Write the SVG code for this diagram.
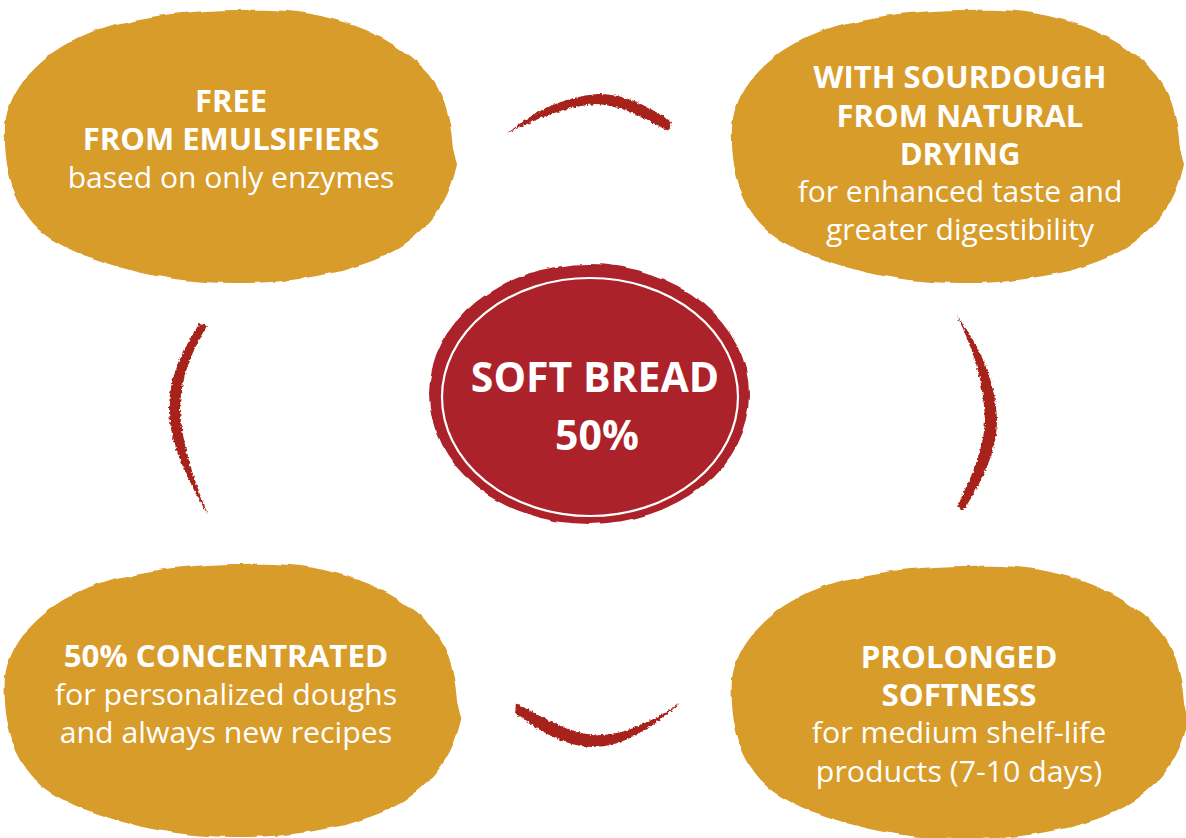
<svg xmlns="http://www.w3.org/2000/svg" width="1186" height="838" viewBox="0 0 1186 838">
  <defs>
    <style>
      .blob { fill: #D89C2A; }
      .hub { fill: #AC2029; }
      .ring { fill: none; stroke: #FFFFFF; stroke-width: 2.2; }
      .stroke { fill: #A8221B; }
      .head { font-family: "Open Sans", "Noto Sans", "Liberation Sans", sans-serif; font-weight: 700; font-size: 31px; fill: #FFFFFF; text-anchor: middle; }
      .body { font-family: "Open Sans", "Noto Sans", "Liberation Sans", sans-serif; font-weight: 400; font-size: 30px; fill: #FFFFFF; text-anchor: middle; }
      .hubtext { font-family: "Open Sans", "Noto Sans", "Liberation Sans", sans-serif; font-weight: 700; font-size: 41px; fill: #FFFFFF; text-anchor: middle; }
    </style>
    <!-- ragged paint edge -->
    <filter id="rough" x="-10%" y="-10%" width="120%" height="120%">
      <feTurbulence type="fractalNoise" baseFrequency="0.035" numOctaves="3" seed="4" result="n"/>
      <feDisplacementMap in="SourceGraphic" in2="n" scale="5" xChannelSelector="R" yChannelSelector="G"/>
    </filter>
    <filter id="brush" x="-20%" y="-20%" width="140%" height="140%">
      <feTurbulence type="fractalNoise" baseFrequency="0.35" numOctaves="2" seed="7" result="n"/>
      <feDisplacementMap in="SourceGraphic" in2="n" scale="4" xChannelSelector="R" yChannelSelector="G"/>
    </filter>
    <!-- painted oval, centred on the origin -->
    <path id="oval" d="M -226,-18 C -222,-72 -168,-112 -98,-126 C -58,-134 -10,-137 40,-136 C 110,-134 168,-106 198,-72 C 216,-50 220,-22 222,4 L 226,17 C 220,52 200,82 168,102 C 128,126 62,138 2,137 C -60,137 -128,122 -174,96 C -210,76 -228,36 -226,-18 Z"/>
  </defs>

  <rect width="1186" height="838" fill="#FFFFFF"/>

  <!-- brush-stroke arcs between the ovals -->
  <g id="connectors" filter="url(#brush)">
    <path class="stroke" d="M 508,133 C 535,110 565,97 597,94 C 626,93 651,108 672,122 L 668,131 C 646,119 624,106 597,104 C 566,106 538,118 508,133 Z"/>
    <path class="stroke" d="M 516,703 C 540,716 565,731 592,735 C 620,737 650,723 680,703 C 652,729 622,747 592,747 C 563,746 538,730 515,713 Z"/>
    <path class="stroke" d="M 200,323 L 207,326 C 191,352 180,380 180,410 C 182,445 194,480 208,515 C 189,482 170,446 169,410 C 169,378 182,350 200,323 Z"/>
    <path class="stroke" d="M 957,316 C 979,345 996,380 997,420 C 997,452 982,481 964,510 L 957,506 C 971,478 984,450 985,420 C 984,382 973,348 957,316 Z"/>
  </g>

  <g id="node-free" transform="translate(231,146)">
    <use href="#oval" class="blob" filter="url(#rough)"/>
    <text class="head" x="0" y="-34">FREE</text>
    <text class="head" x="0" y="4">FROM EMULSIFIERS</text>
    <text class="body" x="0" y="42">based on only enzymes</text>
  </g>

  <g id="node-sourdough" transform="translate(958,146)">
    <use href="#oval" class="blob" filter="url(#rough)"/>
    <text class="head" x="2" y="-58">WITH SOURDOUGH</text>
    <text class="head" x="2" y="-19">FROM NATURAL</text>
    <text class="head" x="2" y="19">DRYING</text>
    <text class="body" x="2" y="56">for enhanced taste and</text>
    <text class="body" x="2" y="94">greater digestibility</text>
  </g>

  <g id="node-concentrated" transform="translate(233,700) scale(1.01,1.0)">
    <use href="#oval" class="blob" filter="url(#rough)"/>
    <text class="head" x="-7" y="-33">50% CONCENTRATED</text>
    <text class="body" x="-7" y="5">for personalized doughs</text>
    <text class="body" x="-7" y="43">and always new recipes</text>
  </g>

  <g id="node-softness" transform="translate(960,702) scale(1.01,1.0)">
    <use href="#oval" class="blob" filter="url(#rough)"/>
    <text class="head" x="-1" y="-34">PROLONGED</text>
    <text class="head" x="-1" y="4">SOFTNESS</text>
    <text class="body" x="-1" y="41">for medium shelf-life</text>
    <text class="body" x="-1" y="80">products (7-10 days)</text>
  </g>

  <g id="node-hub">
    <ellipse class="hub" cx="589" cy="394" rx="160" ry="130" filter="url(#rough)"/>
    <ellipse class="ring" cx="590" cy="397" rx="148" ry="119"/>
    <text class="hubtext" x="595" y="392">SOFT BREAD</text>
    <text class="hubtext" x="597" y="450">50%</text>
  </g>
</svg>
